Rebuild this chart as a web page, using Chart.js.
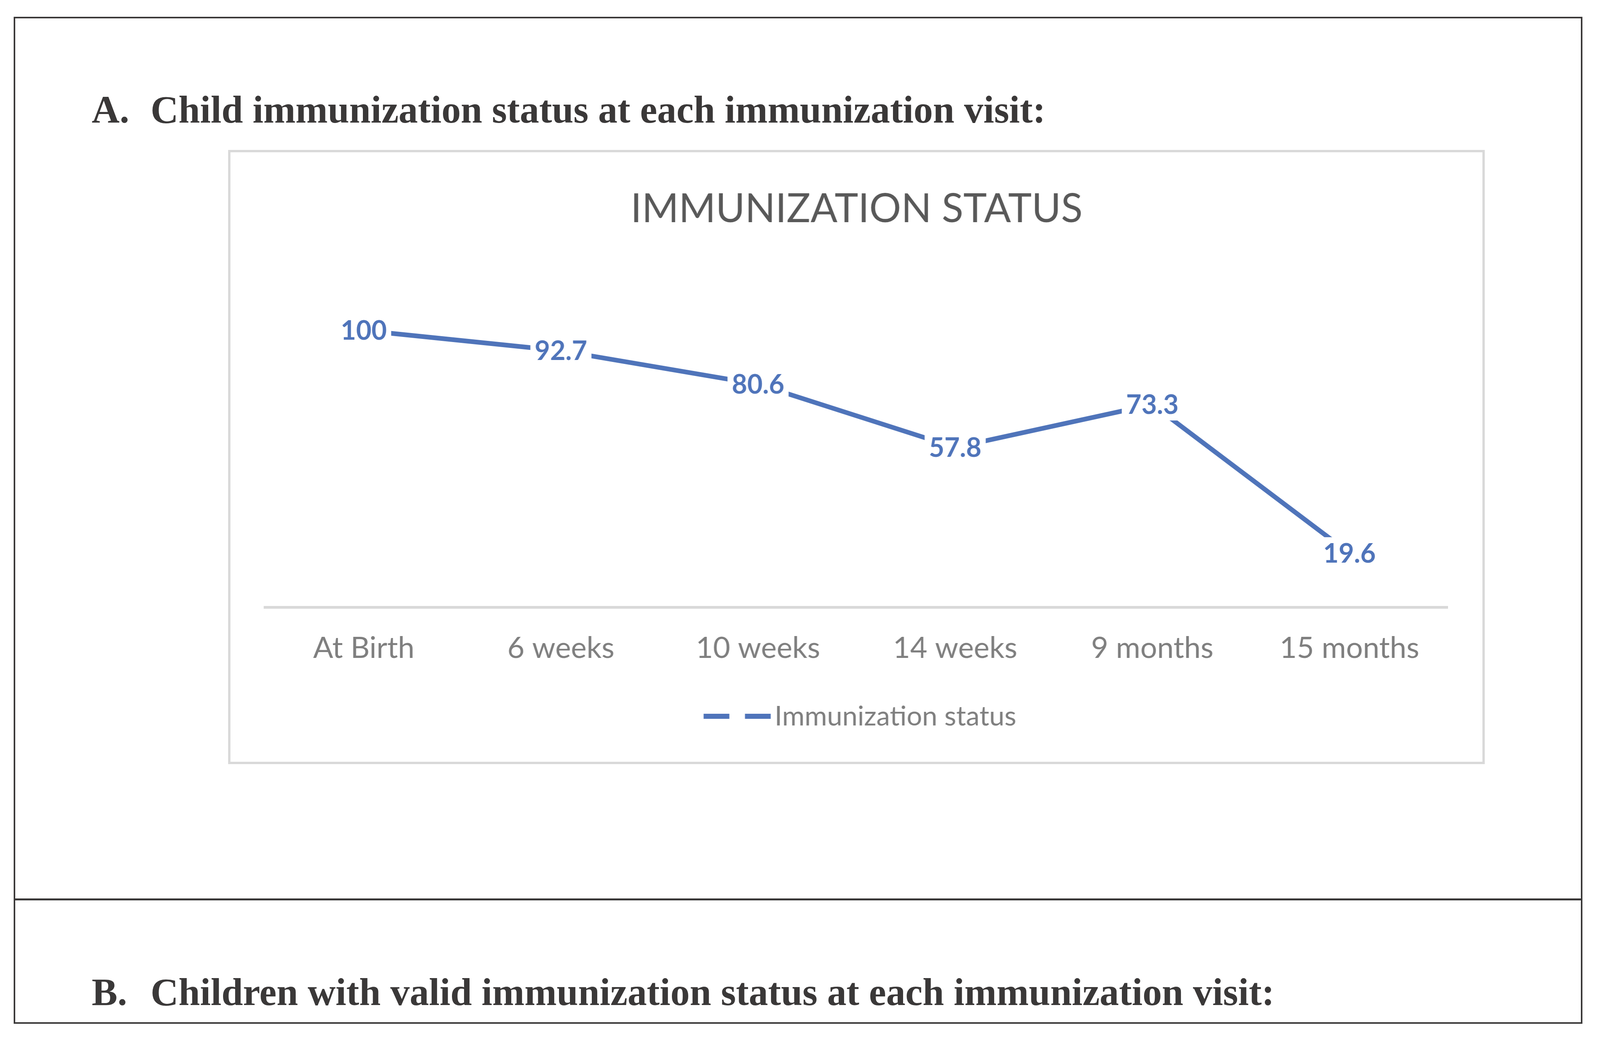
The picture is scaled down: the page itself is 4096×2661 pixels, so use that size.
<!DOCTYPE html>
<html>
<head>
<meta charset="utf-8">
<script src="https://cdn.jsdelivr.net/npm/chart.js@4.4.1/dist/chart.umd.min.js"></script>
<style>
  html, body { margin: 0; padding: 0; background: #fff; }
  #page { position: relative; width: 4096px; height: 2661px; overflow: hidden; }
  .hd { position: absolute; font-family: "Liberation Serif", serif; font-weight: bold; color: #3a3838; white-space: nowrap; }
</style>
</head>
<body>
<div id="page"></div>
<script>
// data
const categories = ['At Birth', '6 weeks', '10 weeks', '14 weeks', '9 months', '15 months'];
const immunizationStatus = [100, 92.7, 80.6, 57.8, 73.3, 19.6];
const seriesName = 'Immunization status';
const chartTitle = 'IMMUNIZATION STATUS';
const headingA = ['A.', 'Child immunization status at each immunization visit:'];
const headingB = ['B.', 'Children with valid immunization status at each immunization visit:'];
const yMin = 0, yMax = 120;

const S = 0.999;
const BLUE = '#4f74ba';
const page = document.getElementById('page');

function box(x, y, w, h, css) {
  const d = document.createElement('div');
  d.style.cssText = 'position:absolute;box-sizing:border-box;left:' + x * S + 'px;top:' + y * S + 'px;width:' + w * S + 'px;height:' + h * S + 'px;' + (css || '');
  page.appendChild(d);
  return d;
}

// outer frame + divider
box(35, 43, 4020, 2582, 'border:' + 5 * S + 'px solid #3a3838;');
box(35, 2303, 4020, 5, 'background:#3a3838;');

// headings (baseline at given y)
function heading(parts, baseline) {
  const fs = 99 * S;
  const top = baseline * S - 83 * S;
  [[parts[0], 235], [parts[1], 386]].forEach(([t, x]) => {
    const s = document.createElement('div');
    s.className = 'hd';
    s.style.left = x * S + 'px';
    s.style.top = top + 'px';
    s.style.fontSize = fs + 'px';
    s.style.lineHeight = fs + 'px';
    s.textContent = t;
    page.appendChild(s);
  });
}
heading(headingA, 315);
heading(headingB, 2577);

// chart frame
box(585, 384, 3220, 1575, 'border:' + 7 * S + 'px solid #d9d9d9;');
const holder = box(592, 391, 3206, 1561, '');
const cv = document.createElement('canvas');
holder.appendChild(cv);

const extras = {
  id: 'extras',
  afterDatasetsDraw(chart) {
    const ctx = chart.ctx;
    const meta = chart.getDatasetMeta(0);
    const vals = chart.data.datasets[0].data;
    ctx.save();
    ctx.font = 'bold ' + 68 * S + 'px Lato';
    ctx.textAlign = 'center';
    ctx.textBaseline = 'middle';
    meta.data.forEach((pt, i) => {
      const txt = String(vals[i]);
      const w = ctx.measureText(txt).width + 22 * S;
      const h = 82 * S;
      ctx.fillStyle = '#fff';
      ctx.fillRect(pt.x - w / 2, pt.y - h / 2, w, h);
      ctx.fillStyle = BLUE;
      ctx.fillText(txt, pt.x, pt.y + 2 * S);
    });
    ctx.restore();
  },
  afterDraw(chart) {
    const ctx = chart.ctx;
    ctx.save();
    // title
    ctx.font = 102 * S + 'px Lato';
    ctx.fillStyle = '#595959';
    ctx.textAlign = 'center';
    ctx.textBaseline = 'alphabetic';
    ctx.fillText(chartTitle, chart.width / 2, 178 * S);
    // legend
    ctx.strokeStyle = BLUE;
    ctx.lineWidth = 13 * S;
    ctx.setLineDash([66 * S, 40 * S]);
    ctx.beginPath();
    ctx.moveTo(1211 * S, 1445 * S);
    ctx.lineTo(1385 * S, 1445 * S);
    ctx.stroke();
    ctx.setLineDash([]);
    ctx.font = 70 * S + 'px Lato';
    ctx.fillStyle = '#7f7f7f';
    ctx.textAlign = 'left';
    ctx.fillText(chart.data.datasets[0].label, 1393 * S, 1468 * S);
    ctx.restore();
  }
};

new Chart(cv, {
  type: 'line',
  data: {
    labels: categories,
    datasets: [{
      label: seriesName,
      data: immunizationStatus,
      borderColor: BLUE,
      backgroundColor: BLUE,
      borderWidth: 12 * S,
      pointRadius: 0,
      tension: 0,
      borderJoinStyle: 'round'
    }]
  },
  options: {
    responsive: true,
    maintainAspectRatio: false,
    animation: false,
    layout: { padding: { left: 88 * S, right: 88 * S, top: 314 * S, bottom: 0 } },
    plugins: { legend: { display: false }, title: { display: false }, tooltip: { enabled: false } },
    scales: {
      x: {
        offset: true,
        grid: { display: false, drawTicks: false },
        border: { display: true, color: '#d9d9d9', width: 7 * S },
        ticks: { color: '#7f7f7f', font: { family: 'Lato', size: 76 * S }, padding: 59 * S, maxRotation: 0 },
        afterFit(axis) { axis.height = 395 * S; }
      },
      y: { display: false, min: yMin, max: yMax }
    }
  },
  plugins: [extras]
});
</script>
</body>
</html>
